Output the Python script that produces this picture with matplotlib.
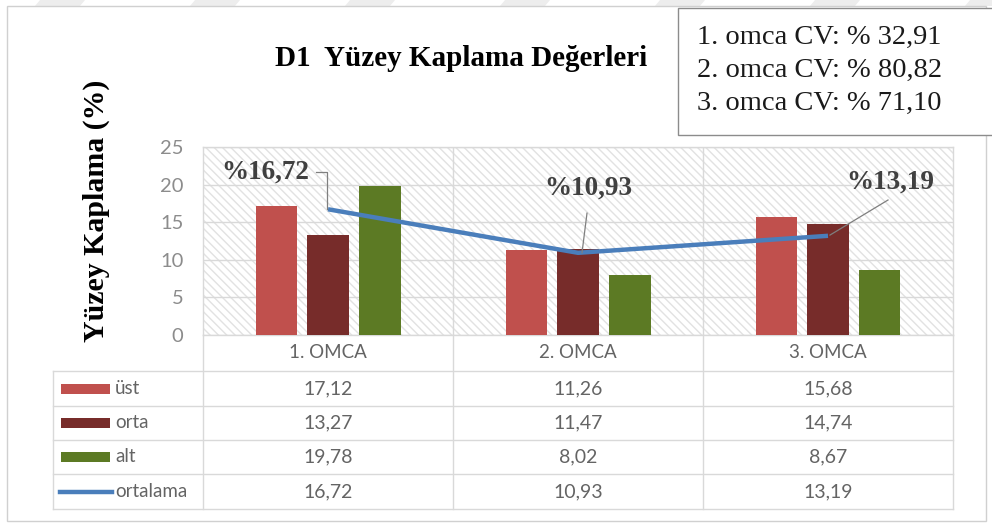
import matplotlib
matplotlib.use("Agg")
import matplotlib.pyplot as plt
import matplotlib.transforms as mtransforms
from matplotlib.patches import Rectangle, Polygon
from matplotlib.lines import Line2D
import numpy as np

categories = ["1. OMCA", "2. OMCA", "3. OMCA"]
ust = [17.12, 11.26, 15.68]
orta = [13.27, 11.47, 14.74]
alt = [19.78, 8.02, 8.67]
ortalama = [16.72, 10.93, 13.19]
series_names = ["üst", "orta", "alt", "ortalama"]
value_labels = [["17,12", "11,26", "15,68"],
                ["13,27", "11,47", "14,74"],
                ["19,78", "8,02", "8,67"],
                ["16,72", "10,93", "13,19"]]
point_labels = ["%16,72", "%10,93", "%13,19"]
cv_lines = ["1. omca CV: % 32,91", "2. omca CV: % 80,82", "3. omca CV: % 71,10"]
title = "D1  Yüzey Kaplama Değerleri"
ylabel = "Yüzey Kaplama (%)"
yticks = [0, 5, 10, 15, 20, 25]

W, H = 992, 523
fig = plt.figure(figsize=(W / 100, H / 100), dpi=100)
fig.patch.set_facecolor("white")

def fx(px):
    return px / W

def fy(py):
    return 1 - py / H

c_ust = "#C0504D"
c_orta = "#772C2A"
c_alt = "#5C7A24"
c_line = "#4A7EBB"
grid_c = "#D9D9D9"
txt_c = "#646464"
sans = ["Lato", "DejaVu Sans"]
serif = ["Liberation Serif", "DejaVu Serif"]

# faint watermark stripes along the top edge
for sx in [40, 195, 350, 505, 660, 815, 970]:
    fig.add_artist(Polygon([(fx(sx), fy(0)), (fx(sx + 45), fy(0)),
                            (fx(sx + 40), fy(6)), (fx(sx - 5), fy(6))],
                           closed=True, transform=fig.transFigure,
                           facecolor="#EDEDED", edgecolor="none", zorder=0))

# outer chart border
fig.add_artist(Rectangle((fx(7), fy(521)), fx(986) - fx(7), fy(6) - fy(521),
                         transform=fig.transFigure, facecolor="white",
                         edgecolor="#D0D0D0", lw=1.0, zorder=0))

ax = fig.add_axes([fx(203), fy(335), fx(953) - fx(203), fy(147) - fy(335)])
ax.set_xlim(-0.5, 2.5)
ax.set_ylim(0, 25)
ax.patch.set_alpha(0)
# hatched background
ax.add_patch(Rectangle((0, 0), 1, 1, transform=ax.transAxes, facecolor="white",
                       edgecolor="#E2E2E2", hatch="\\\\\\\\", lw=0, zorder=0))

x = np.arange(len(categories))
bw = 0.166
off = 0.207
ax.bar(x - off, ust, bw, color=c_ust, zorder=3)
ax.bar(x, orta, bw, color=c_orta, zorder=3)
ax.bar(x + off, alt, bw, color=c_alt, zorder=3)
ax.plot(x, ortalama, color=c_line, lw=3.2, zorder=4, solid_capstyle="butt")

ax.set_yticks(yticks)
ax.set_yticklabels([str(t) for t in yticks], fontfamily=sans, fontsize=14.5, color="#8C8C8C")
ax.tick_params(axis="y", length=0, pad=14)
ax.set_xticks([0.5, 1.5])
ax.set_xticklabels([])
ax.tick_params(axis="x", length=0)
ax.grid(True, color=grid_c, lw=1.0, zorder=1)
for s in ax.spines.values():
    s.set_color(grid_c)
    s.set_linewidth(1.0)

# data labels with leader lines
lab_pos = [(-0.252, 21.6), (1.04, 19.55), (2.248, 20.35)]
for i in range(3):
    ax.text(lab_pos[i][0], lab_pos[i][1], point_labels[i], fontfamily=serif,
            fontweight="bold", fontsize=19.5, color="#404040", ha="center",
            va="center", zorder=6)
ax.plot([-0.048, -0.004, -0.004], [21.7, 21.7, ortalama[0]], color="#7F7F7F",
        lw=0.9, zorder=5)
ax.plot([1.036, 1.016], [16.2, ortalama[1]], color="#7F7F7F", lw=0.9, zorder=5)
ax.plot([2.24, 2.008], [17.95, ortalama[2] + 0.1], color="#7F7F7F", lw=0.9, zorder=5)

# title and y label
fig.text(fx(461), fy(58), title, fontfamily=serif, fontweight="bold", fontsize=21,
         ha="center", va="center", color="black")
fig.text(fx(96), fy(211), ylabel, fontfamily=serif, fontweight="bold", fontsize=21.5,
         ha="center", va="center", rotation=90, color="black")

# data table
tb = mtransforms.blended_transform_factory(ax.transData, fig.transFigure)

def dx(px):
    return -0.5 + (px - 203) / 250.0

row_lines = [371, 406, 440, 474, 509]
tleft = dx(53)
for r in row_lines:
    fig.add_artist(Line2D([tleft, 2.5], [fy(r), fy(r)], transform=tb, color=grid_c, lw=1.0))
fig.add_artist(Line2D([tleft, tleft], [fy(371), fy(509)], transform=tb, color=grid_c, lw=1.0))
for cx in [-0.5, 0.5, 1.5, 2.5]:
    fig.add_artist(Line2D([cx, cx], [fy(335), fy(509)], transform=tb, color=grid_c, lw=1.0))

for i, c in enumerate(categories):
    fig.text(x[i], fy(353), c, transform=tb, fontfamily=sans, fontsize=13.5,
             color=txt_c, ha="center", va="center")

colors = [c_ust, c_orta, c_alt, c_line]
for r in range(4):
    yc = (row_lines[r] + row_lines[r + 1]) / 2
    if r < 3:
        fig.add_artist(Rectangle((dx(61), fy(yc + 5)), dx(110) - dx(61), fy(yc - 5) - fy(yc + 5),
                                 transform=tb, facecolor=colors[r], edgecolor="none"))
    else:
        fig.add_artist(Line2D([dx(60), dx(112)], [fy(yc), fy(yc)], transform=tb,
                              color=colors[r], lw=3.2))
    fig.text(dx(115), fy(yc), series_names[r], transform=tb, fontfamily=sans,
             fontsize=13.5, color=txt_c, ha="left", va="center")
    for i in range(3):
        fig.text(x[i], fy(yc), value_labels[r][i], transform=tb, fontfamily=sans,
                 fontsize=14, color=txt_c, ha="center", va="center")

# CV box
fig.add_artist(Rectangle((fx(678), fy(135)), fx(995) - fx(678), fy(8) - fy(135),
                         transform=fig.transFigure, facecolor="white",
                         edgecolor="#8C8C8C", lw=1.0, zorder=5))
for k, line in enumerate(cv_lines):
    fig.text(fx(697), fy(37 + 33 * k), line, fontfamily=serif, fontsize=20.5,
             ha="left", va="center", color="#1A1A1A", zorder=6)

fig.savefig("out.png", dpi=100)
